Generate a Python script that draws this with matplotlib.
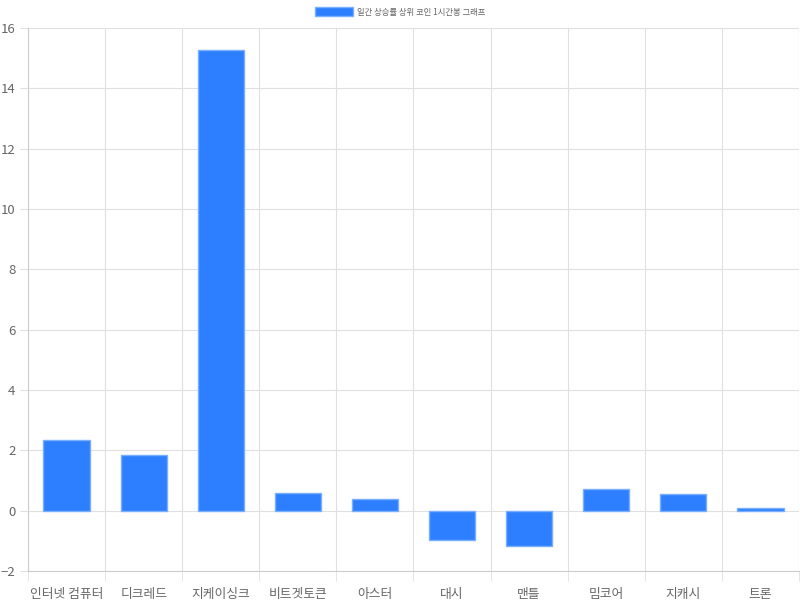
import numpy as np
import matplotlib.pyplot as plt
from matplotlib.ticker import MultipleLocator, FixedLocator

plt.rcParams['font.family'] = ['Noto Sans CJK KR', 'DejaVu Sans']

# data
coins = ['인터넷 컴퓨터', '디크레드', '지케이싱크', '비트겟토큰', '아스터',
         '대시', '맨틀', '밈코어', '지캐시', '트론']
values = [2.35, 1.86, 15.28, 0.6, 0.4, -0.96, -1.16, 0.73, 0.56, 0.1]
label = '일간 상승률 상위 코인 1시간봉 그래프'

barColor = '#2e7fff'
edgeColor = '#7aaeff'
gridColor = '#e0e0e0'
textColor = '#666666'

fig = plt.figure(figsize=(8, 6), dpi=100)
ax = fig.add_axes([0.035, 0.0483, 0.9637, 0.905])

x = np.arange(len(coins))
ax.bar(x, values, width=0.6, color=barColor, edgecolor=edgeColor,
       linewidth=1, label=label, zorder=3)

ax.set_xlim(-0.5, len(coins) - 0.5)
ax.set_ylim(-2, 16)
ax.yaxis.set_major_locator(MultipleLocator(2))

ax.set_xticks(x)
ax.set_xticklabels(coins)
ax.xaxis.set_minor_locator(FixedLocator(np.arange(-0.5, len(coins), 1)))

ax.tick_params(axis='x', which='major', length=0, pad=12, labelsize=9.2, colors=textColor)
ax.tick_params(axis='x', which='minor', length=7, color=gridColor)
ax.tick_params(axis='y', length=6, color=gridColor, labelsize=9.5, labelcolor=textColor, pad=3)

ax.grid(True, axis='y', which='major', color=gridColor, linewidth=0.8, zorder=0)
ax.grid(True, axis='x', which='minor', color=gridColor, linewidth=0.8, zorder=0)

for side in ['top', 'right']:
    ax.spines[side].set_visible(False)
ax.spines['left'].set_color('#cccccc')
ax.spines['bottom'].set_color('#cccccc')

leg = fig.legend(loc='upper center', bbox_to_anchor=(0.5, 1.0), frameon=False,
                 fontsize=6, handlelength=4.6, handleheight=1.2, handletextpad=0.5,
                 labelcolor=textColor)

fig.savefig('out.png', dpi=100)
